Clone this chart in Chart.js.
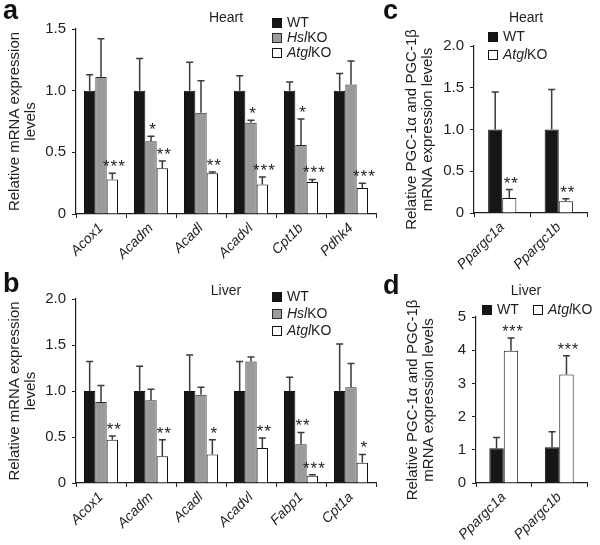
<!DOCTYPE html>
<html>
<head>
<meta charset="utf-8">
<title>Relative mRNA expression</title>
<script src="https://cdn.jsdelivr.net/npm/chart.js@4.4.1/dist/chart.umd.min.js"></script>
<style>
  body { margin: 0; background: #fff; }
  #wrap { position: relative; width: 600px; height: 545px; overflow: hidden; font-family: "Liberation Sans", Arial, sans-serif; }
  canvas { position: absolute; }
  .tag { position: absolute; font-weight: bold; font-size: 27px; line-height: 27px; color: #111; }
</style>
</head>
<body>
<div id="wrap">
  <canvas id="chartA" width="380" height="270" style="left:0;top:0"></canvas>
  <canvas id="chartB" width="380" height="275" style="left:0;top:270px"></canvas>
  <canvas id="chartC" width="220" height="270" style="left:380px;top:0"></canvas>
  <canvas id="chartD" width="220" height="275" style="left:380px;top:270px"></canvas>
  <div class="tag" style="left:3px;top:-3px">a</div>
  <div class="tag" style="left:3px;top:270px">b</div>
  <div class="tag" style="left:383px;top:-3px">c</div>
  <div class="tag" style="left:383px;top:272px">d</div>
</div>
<script>
/* ---------- DATA ---------- */
const heartGenes = ["Acox1", "Acadm", "Acadl", "Acadvl", "Cpt1b", "Pdhk4"];
const heartWT = [1, 1, 1, 1, 1, 1];
const heartWTErr = [0.13, 0.26, 0.23, 0.12, 0.07, 0.14];
const heartHsl = [1.11, 0.59, 0.82, 0.74, 0.56, 1.05];
const heartHslErr = [0.31, 0.04, 0.26, 0.02, 0.21, 0.19];
const heartHslStars = ["", "*", "", "*", "*", ""];
const heartAtgl = [0.28, 0.37, 0.33, 0.24, 0.26, 0.21];
const heartAtglErr = [0.05, 0.06, 0.01, 0.06, 0.02, 0.04];
const heartAtglStars = ["***", "**", "**", "***", "***", "***"];

const liverGenes = ["Acox1", "Acadm", "Acadl", "Acadvl", "Fabp1", "Cpt1a"];
const liverWT = [1, 1, 1, 1, 1, 1];
const liverWTErr = [0.32, 0.27, 0.39, 0.32, 0.15, 0.51];
const liverHsl = [0.88, 0.9, 0.96, 1.32, 0.42, 1.04];
const liverHslErr = [0.18, 0.12, 0.08, 0.05, 0.13, 0.26];
const liverHslStars = ["", "", "", "", "**", ""];
const liverAtgl = [0.47, 0.29, 0.31, 0.38, 0.08, 0.22];
const liverAtglErr = [0.04, 0.18, 0.16, 0.11, 0.01, 0.09];
const liverAtglStars = ["**", "**", "*", "**", "***", "*"];

const pgcGenes = ["Ppargc1a", "Ppargc1b"];
const pgcHeartWT = [1, 1];
const pgcHeartWTErr = [0.45, 0.48];
const pgcHeartAtgl = [0.18, 0.14];
const pgcHeartAtglErr = [0.1, 0.03];
const pgcHeartAtglStars = ["**", "**"];
const pgcLiverWT = [1.05, 1.08];
const pgcLiverWTErr = [0.32, 0.46];
const pgcLiverAtgl = [3.98, 3.27];
const pgcLiverAtglErr = [0.39, 0.56];
const pgcLiverAtglStars = ["***", "***"];

const FONT = "'Liberation Sans', Arial, sans-serif";
const INK = "#1f1f1f";
const BLACK_BAR = "#161616";
const GRAY_BAR = "#9a9a9a";

function wtSet(data, errors) {
  return { label: "WT", italicPart: "", data, errors, stars: [],
    backgroundColor: BLACK_BAR, borderColor: "#111" };
}
function hslSet(data, errors, stars) {
  return { label: "HslKO", italicPart: "Hsl", data, errors, stars,
    backgroundColor: GRAY_BAR, borderColor: "#2a2a2a" };
}
function atglSet(data, errors, stars) {
  return { label: "AtglKO", italicPart: "Atgl", data, errors, stars,
    backgroundColor: "#ffffff", borderColor: "#111" };
}

/* ---------- ERROR BARS, STARS, TITLE, LEGEND ---------- */
const panelDecor = {
  id: "panelDecor",
  afterDatasetsDraw(chart, args, opts) {
    const ctx = chart.ctx;
    const yScale = chart.scales.y;
    ctx.save();
    chart.data.datasets.forEach((ds, i) => {
      const meta = chart.getDatasetMeta(i);
      meta.data.forEach((bar, j) => {
        const top = yScale.getPixelForValue(ds.data[j] + ds.errors[j]);
        ctx.strokeStyle = "#3a3a3a";
        ctx.lineWidth = 1.5;
        ctx.beginPath();
        ctx.moveTo(bar.x, bar.y);
        ctx.lineTo(bar.x, top);
        ctx.moveTo(bar.x - 3.5, top);
        ctx.lineTo(bar.x + 3.5, top);
        ctx.stroke();

        const star = ds.stars[j];
        if (star) {
          ctx.fillStyle = INK;
          ctx.font = opts.starFont;
          ctx.letterSpacing = "1px";
          ctx.textAlign = "center";
          ctx.textBaseline = "alphabetic";
          ctx.fillText(star, bar.x + 2, top - 1);
          ctx.letterSpacing = "0px";
        }
      });
    });

    // panel title
    ctx.fillStyle = INK;
    ctx.font = "14px " + FONT;
    ctx.textAlign = "center";
    ctx.textBaseline = "middle";
    ctx.fillText(opts.title, opts.titleX, opts.titleY);

    // legend
    ctx.textAlign = "left";
    chart.data.datasets.forEach((ds, i) => {
      const pos = opts.legend[i];
      const s = 10;
      ctx.fillStyle = ds.backgroundColor;
      ctx.fillRect(pos.x, pos.y - s / 2, s, s);
      ctx.strokeStyle = ds.borderColor;
      ctx.lineWidth = 1;
      ctx.strokeRect(pos.x + 0.5, pos.y - s / 2 + 0.5, s - 1, s - 1);

      let tx = pos.x + s + 5;
      ctx.fillStyle = INK;
      if (ds.italicPart) {
        ctx.font = "italic 14px " + FONT;
        ctx.fillText(ds.italicPart, tx, pos.y);
        tx += ctx.measureText(ds.italicPart).width;
      }
      ctx.font = "14px " + FONT;
      ctx.fillText(ds.label.slice(ds.italicPart.length), tx, pos.y);
    });
    ctx.restore();
  }
};

/* ---------- PANEL BUILDER ---------- */
function makePanel(id, labels, datasets, cfg) {
  return new Chart(document.getElementById(id), {
    type: "bar",
    data: { labels, datasets },
    options: {
      responsive: false,
      animation: false,
      layout: { padding: { top: cfg.padTop, right: cfg.padRight, left: 0, bottom: 0 } },
      datasets: {
        bar: {
          categoryPercentage: cfg.catPct,
          barPercentage: 1,
          borderWidth: 1
        }
      },
      plugins: {
        legend: { display: false },
        tooltip: { enabled: false },
        panelDecor: cfg.decor
      },
      scales: {
        x: {
          afterFit: scale => { scale.height = cfg.xHeight; },
          grid: { display: true, drawOnChartArea: false, tickLength: 4, color: INK },
          border: { display: true, color: INK, width: 1.2 },
          ticks: {
            color: INK,
            minRotation: 45,
            maxRotation: 45,
            padding: 2,
            font: { family: FONT, size: 14, style: "italic" }
          }
        },
        y: {
          min: 0,
          max: cfg.yMax,
          afterFit: scale => { scale.width = cfg.yWidth; },
          grid: { display: true, drawOnChartArea: false, tickLength: 4, color: INK },
          border: { display: true, color: INK, width: 1.2 },
          ticks: {
            stepSize: cfg.yStep,
            color: INK,
            padding: 6,
            font: { family: FONT, size: 15 },
            callback: cfg.tickFmt
          },
          title: {
            display: true,
            text: cfg.yTitle,
            color: INK,
            padding: { top: cfg.titlePad, bottom: 0 },
            font: { family: FONT, size: 15, lineHeight: 1.12 }
          }
        }
      }
    },
    plugins: [panelDecor]
  });
}

const oneDecimal = v => (v === 0 ? "0" : v.toFixed(1));
const mrnaTitle = ["Relative mRNA expression", "levels"];
const pgcTitle = ["Relative PGC-1α and PGC-1β", "mRNA expression levels"];

/* ---------- a: heart ---------- */
makePanel("chartA", heartGenes, [
  wtSet(heartWT, heartWTErr),
  hslSet(heartHsl, heartHslErr, heartHslStars),
  atglSet(heartAtgl, heartAtglErr, heartAtglStars)
], {
  yMax: 1.5, yStep: 0.5, tickFmt: oneDecimal, yTitle: mrnaTitle, titlePad: 6,
  padTop: 29, padRight: 4, yWidth: 76, xHeight: 56, catPct: 0.68,
  decor: {
    title: "Heart", titleX: 226, titleY: 18, starFont: "17px " + FONT,
    legend: [{ x: 272, y: 23 }, { x: 272, y: 38 }, { x: 272, y: 53 }]
  }
});

/* ---------- b: liver ---------- */
makePanel("chartB", liverGenes, [
  wtSet(liverWT, liverWTErr),
  hslSet(liverHsl, liverHslErr, liverHslStars),
  atglSet(liverAtgl, liverAtglErr, liverAtglStars)
], {
  yMax: 2.0, yStep: 0.5, tickFmt: oneDecimal, yTitle: mrnaTitle, titlePad: 6,
  padTop: 29, padRight: 4, yWidth: 76, xHeight: 62, catPct: 0.68,
  decor: {
    title: "Liver", titleX: 226, titleY: 21, starFont: "17px " + FONT,
    legend: [{ x: 272, y: 27 }, { x: 272, y: 44 }, { x: 272, y: 61 }]
  }
});

/* ---------- c: PGC-1 heart ---------- */
makePanel("chartC", pgcGenes, [
  wtSet(pgcHeartWT, pgcHeartWTErr),
  atglSet(pgcHeartAtgl, pgcHeartAtglErr, pgcHeartAtglStars)
], {
  yMax: 2.0, yStep: 0.5, tickFmt: oneDecimal, yTitle: pgcTitle, titlePad: 23,
  padTop: 46, padRight: 13, yWidth: 94, xHeight: 57, catPct: 0.5,
  decor: {
    title: "Heart", titleX: 146, titleY: 18, starFont: "17px " + FONT,
    legend: [{ x: 108, y: 37 }, { x: 108, y: 55 }]
  }
});

/* ---------- d: PGC-1 liver ---------- */
makePanel("chartD", pgcGenes, [
  wtSet(pgcLiverWT, pgcLiverWTErr),
  atglSet(pgcLiverAtgl, pgcLiverAtglErr, pgcLiverAtglStars)
], {
  yMax: 5, yStep: 1, tickFmt: v => String(v), yTitle: pgcTitle, titlePad: 24,
  padTop: 47, padRight: 13, yWidth: 96, xHeight: 62, catPct: 0.52,
  decor: {
    title: "Liver", titleX: 146, titleY: 21, starFont: "16px " + FONT,
    legend: [{ x: 102, y: 40 }, { x: 153, y: 40 }]
  }
});
</script>
</body>
</html>
